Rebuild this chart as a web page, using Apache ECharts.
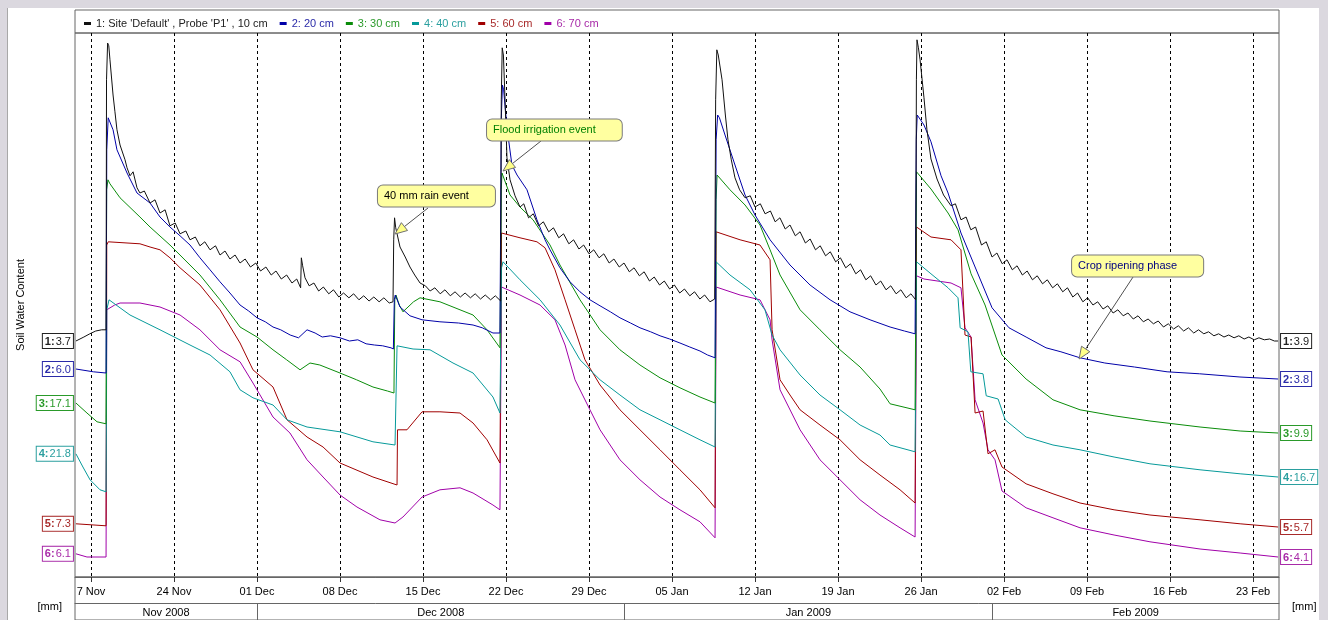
<!DOCTYPE html>
<html><head><meta charset="utf-8">
<script src="https://cdn.jsdelivr.net/npm/echarts@6/dist/echarts.min.js"></script>
<style>
html,body{margin:0;padding:0;width:1328px;height:620px;overflow:hidden;background:#dbd8df;}
#panel{position:absolute;left:7px;top:8px;width:1311px;height:612px;background:#fff;border-left:1px solid #a8a8a8;}
#chart{position:absolute;left:0;top:0;width:1328px;height:620px;}
</style></head><body><div id="panel"></div><div id="chart"></div>
<script>
// x = days since 17 Nov 2008 00:00, y = relative display level (probe lines have no common scale)
const seriesNames = ["1: Site 'Default' , Probe 'P1' , 10 cm", "2: 20 cm", "3: 30 cm", "4: 40 cm", "5: 60 cm", "6: 70 cm"];

const s1 = [[-1.27,59.0],[-0.6,60.0],[-0.1,60.8],[0.4,61.5],[0.9,61.8],[1.27,61.8],[1.31,124.3],[1.40,133.5],[1.50,132.8],[1.60,129.3],[1.86,120.5],[2.02,116.3],[2.19,111.8],[2.45,108.0],[2.87,104.3],[3.04,102.3],[3.29,100.3],[3.55,101.3],[3.88,97.3],[4.13,96.0],[4.5,96.5],[4.98,93.5],[5.4,94.3],[5.82,91.0],[6.25,91.8],[6.66,87.8],[7.1,88.5],[7.51,85.8],[8.0,86.5],[8.35,84.3],[8.8,85.0],[9.19,82.8],[9.6,83.8],[10.04,81.8],[10.5,82.8],[10.88,80.5],[11.3,81.5],[11.72,79.5],[12.15,80.5],[12.57,78.5],[13.0,79.5],[13.45,77.5],[13.9,78.5],[14.3,76.5],[14.75,77.5],[15.2,75.5],[15.6,76.5],[16.05,74.5],[16.5,75.5],[16.95,73.5],[17.35,74.5],[17.68,72.3],[17.74,79.8],[17.85,77.8],[18.05,74.8],[18.4,72.8],[18.8,73.5],[19.2,71.5],[19.6,72.5],[20.05,70.8],[20.45,71.8],[20.9,70.0],[21.3,71.0],[21.75,69.8],[22.15,70.8],[22.6,69.3],[23.0,70.3],[23.45,69.0],[23.85,70.0],[24.3,68.8],[24.7,69.8],[25.15,68.5],[25.47,68.8],[25.53,84.3],[25.6,89.8],[25.7,87.3],[26.06,82.5],[26.5,80.0],[26.9,77.5],[27.3,75.5],[27.75,73.5],[28.2,72.8],[28.6,71.5],[29.0,72.3],[29.45,70.8],[29.85,71.8],[30.3,70.3],[30.7,71.3],[31.15,70.0],[31.55,71.0],[32.0,69.8],[32.4,70.8],[32.85,69.5],[33.25,70.5],[33.7,69.3],[34.1,70.3],[34.55,69.0],[34.60,119.3],[34.68,132.3],[34.78,130.5],[34.92,119.3],[35.08,104.8],[35.34,99.3],[35.76,95.3],[36.18,92.5],[36.5,93.3],[36.9,89.8],[37.3,90.8],[37.75,87.8],[38.15,88.8],[38.6,86.3],[39.0,87.3],[39.45,84.8],[39.85,85.8],[40.3,83.3],[40.7,84.3],[41.15,82.0],[41.55,83.0],[42.0,80.8],[42.4,81.8],[42.85,79.8],[43.25,80.8],[43.7,78.5],[44.1,79.5],[44.55,77.5],[44.95,78.5],[45.4,76.3],[45.8,77.3],[46.25,75.3],[46.65,76.3],[47.1,74.0],[47.5,75.0],[47.95,73.0],[48.35,74.0],[48.8,72.0],[49.2,73.0],[49.65,71.0],[50.05,72.0],[50.5,70.3],[50.9,71.3],[51.35,69.5],[51.75,70.5],[52.2,68.8],[52.6,69.5],[52.68,119.3],[52.78,131.8],[52.9,130.5],[53.22,124.3],[53.5,115.5],[53.72,109.3],[54.0,104.3],[54.31,99.8],[54.7,96.8],[55.16,94.8],[55.6,95.3],[56.0,92.5],[56.45,93.3],[56.85,90.8],[57.3,91.5],[57.7,88.8],[58.1,89.8],[58.55,87.0],[58.95,88.0],[59.4,85.3],[59.8,86.3],[60.25,83.5],[60.65,84.5],[61.1,81.8],[61.5,82.8],[61.95,80.3],[62.35,81.3],[62.8,78.8],[63.2,79.8],[63.65,77.3],[64.05,78.3],[64.5,75.8],[64.9,76.8],[65.35,74.3],[65.75,75.3],[66.2,73.0],[66.6,74.0],[67.05,71.8],[67.45,72.8],[67.9,70.8],[68.3,71.8],[68.75,69.8],[69.15,70.8],[69.55,69.3],[69.61,124.3],[69.66,134.3],[69.78,132.3],[69.92,129.3],[70.25,119.8],[70.5,111.8],[70.84,104.5],[71.35,99.5],[71.9,95.5],[72.53,92.8],[72.9,93.3],[73.37,89.3],[73.8,90.0],[74.2,86.8],[74.6,87.5],[75.1,83.0],[75.5,83.8],[75.99,80.0],[76.4,81.0],[76.85,78.3],[77.25,79.3],[77.7,76.8],[78.1,77.8],[78.55,75.5],[78.95,76.5],[79.4,74.3],[79.8,75.3],[80.25,73.3],[80.65,74.3],[81.1,72.3],[81.5,73.3],[81.95,71.3],[82.35,72.3],[82.8,70.0],[83.2,71.0],[83.65,68.8],[84.05,69.8],[84.5,68.0],[84.9,68.8],[85.35,67.0],[85.75,67.8],[86.2,66.0],[86.6,66.8],[87.05,65.3],[87.45,66.0],[87.9,64.5],[88.3,65.3],[88.75,63.8],[89.15,64.5],[89.6,63.3],[90.0,64.0],[90.45,62.5],[90.85,63.3],[91.3,62.0],[91.7,62.8],[92.15,61.5],[92.55,62.3],[93.0,61.0],[93.4,61.8],[93.85,60.8],[94.25,61.3],[94.7,60.3],[95.1,60.8],[95.55,60.0],[95.95,60.5],[96.4,59.8],[96.8,60.3],[97.25,59.5],[97.65,60.0],[98.1,59.3],[98.5,59.8],[98.95,59.3],[99.4,59.5],[99.8,59.0],[100.11,59.0]];

const s2 = [[-1.27,52.0],[0.2,51.3],[1.27,51.0],[1.33,106.8],[1.45,114.8],[1.55,115.3],[1.86,111.8],[2.19,106.8],[3.04,101.0],[3.88,96.0],[4.98,93.5],[5.82,90.0],[6.66,87.5],[7.51,85.3],[8.35,83.0],[9.19,79.8],[10.04,76.8],[10.88,73.8],[11.72,71.0],[12.57,68.0],[13.3,66.5],[14.0,64.8],[14.7,63.8],[15.35,62.5],[16.0,61.8],[16.8,60.5],[17.5,59.8],[18.22,61.8],[18.9,61.0],[19.5,60.0],[20.2,60.3],[21.0,59.8],[21.8,59.0],[22.5,59.3],[23.2,58.3],[23.9,58.0],[24.6,57.8],[25.3,57.3],[25.5,57.0],[25.58,69.3],[25.66,70.5],[26.06,67.5],[26.9,65.3],[27.92,64.3],[29.43,63.8],[31.0,63.5],[32.22,63.0],[33.0,62.3],[33.9,61.0],[34.49,61.0],[34.60,114.3],[34.70,123.0],[34.80,121.8],[35.08,112.3],[35.5,103.0],[35.93,100.5],[36.77,96.8],[37.61,89.3],[38.29,84.3],[38.71,81.8],[39.55,77.3],[40.4,73.8],[41.24,71.3],[42.08,69.3],[42.93,67.8],[43.8,66.3],[44.61,64.8],[45.5,63.5],[46.3,62.3],[47.2,61.3],[47.99,60.3],[48.8,59.5],[49.67,58.5],[50.5,57.5],[51.36,56.5],[52.0,55.5],[52.63,54.8],[52.72,109.3],[52.85,115.5],[53.0,114.8],[53.47,110.5],[54.31,103.0],[55.16,95.5],[56.0,90.5],[57.27,84.3],[58.95,78.0],[60.64,73.0],[62.33,69.3],[64.01,66.3],[65.70,64.3],[67.39,62.5],[68.6,61.5],[69.5,60.8],[69.6,109.3],[69.68,115.5],[70.25,113.0],[70.84,108.8],[71.69,100.3],[72.28,96.0],[73.37,86.0],[74.56,77.5],[75.99,67.3],[77.42,62.3],[78.86,60.0],[80.54,57.3],[81.8,56.3],[83.41,54.8],[85.5,53.5],[88.0,52.5],[90.75,51.3],[93.5,50.8],[96.9,50.0],[100.11,49.5]];

const s3 = [[-1.27,43.5],[-0.34,41.0],[0.51,38.8],[1.27,38.3],[1.32,96.8],[1.43,99.3],[1.60,98.3],[2.45,94.8],[4.13,90.0],[4.98,87.5],[6.66,83.0],[9.19,75.5],[10.88,69.3],[12.57,62.5],[14.0,60.0],[15.35,56.8],[16.5,54.3],[17.63,51.8],[18.47,53.5],[19.3,53.0],[21.0,51.0],[22.4,49.3],[23.78,47.5],[25.0,46.5],[25.55,46.0],[25.62,69.3],[25.72,70.5],[26.0,68.0],[26.31,66.3],[27.2,68.8],[27.75,69.8],[29.43,68.8],[31.12,66.8],[32.22,65.5],[33.4,61.8],[34.49,57.3],[34.60,96.8],[34.66,101.0],[35.34,95.5],[36.18,92.5],[37.28,89.3],[38.71,83.0],[39.55,78.0],[41.24,69.3],[42.93,61.8],[44.61,56.8],[46.3,53.0],[47.99,49.8],[49.67,47.3],[51.36,45.0],[52.63,43.5],[52.72,94.3],[52.80,100.5],[53.89,96.8],[55.16,93.0],[56.42,88.0],[57.27,81.8],[58.11,75.5],[59.80,66.8],[61.48,61.8],[63.17,56.8],[64.86,52.5],[66.54,47.0],[67.39,43.3],[69.5,41.8],[69.62,101.3],[70.84,97.0],[72.28,91.0],[73.12,86.8],[74.22,75.8],[75.4,68.0],[76.83,55.5],[78.86,49.5],[81.13,44.3],[83.41,41.8],[86.28,40.3],[89.31,39.0],[93.53,37.5],[96.91,36.5],[100.11,36.0]];

const s4 = [[-1.27,30.8],[-0.68,27.5],[-0.08,24.3],[0.76,21.8],[1.27,21.3],[1.33,66.8],[1.52,69.3],[2.45,67.3],[3.29,65.5],[5.82,61.8],[8.35,58.0],[10.04,55.5],[11.72,51.3],[12.57,46.8],[13.66,44.8],[15.35,43.0],[16.53,39.3],[18.22,37.5],[21.0,36.3],[23.78,33.8],[25.64,33.0],[25.81,57.8],[27.16,57.0],[28.59,56.8],[30.53,53.5],[32.22,51.0],[33.90,45.0],[34.49,41.0],[34.62,77.3],[34.75,78.8],[36.18,74.3],[37.87,69.3],[39.55,63.0],[41.24,54.3],[42.93,49.3],[44.61,45.5],[46.3,41.8],[47.99,39.3],[49.67,36.8],[51.36,34.3],[52.63,32.5],[52.72,78.8],[53.89,75.5],[55.58,71.8],[56.84,66.8],[57.44,60.5],[58.11,56.8],[59.80,50.5],[61.48,45.5],[63.17,41.8],[64.86,38.0],[66.54,35.5],[67.39,33.0],[69.5,31.3],[69.62,78.8],[70.84,75.8],[72.28,72.3],[73.12,69.8],[73.3,62.3],[73.96,61.3],[74.2,51.3],[75.23,50.8],[75.5,45.3],[76.5,44.5],[77.1,39.3],[77.42,38.5],[78.86,35.0],[81.13,33.0],[83.41,31.8],[86.28,30.0],[89.31,28.3],[93.53,26.8],[96.91,25.8],[100.11,25.0]];

const s5 = [[-1.27,13.3],[1.27,12.8],[1.33,83.0],[1.45,83.8],[4.13,83.3],[4.98,82.5],[5.82,81.8],[6.66,79.8],[7.51,77.3],[9.19,73.0],[10.88,66.8],[12.57,58.5],[13.66,51.8],[15.35,47.5],[16.53,39.3],[18.22,35.0],[19.57,32.5],[21.0,28.5],[23.78,25.0],[25.81,23.0],[25.85,36.8],[26.65,36.8],[27.92,41.3],[29.43,41.3],[31.12,41.0],[32.22,38.5],[33.40,34.3],[34.49,28.5],[34.62,86.0],[36.18,84.8],[37.61,83.8],[38.29,82.3],[39.13,76.8],[39.98,69.3],[40.82,61.8],[41.66,54.3],[42.93,48.0],[44.61,41.8],[46.3,36.8],[47.99,31.8],[49.67,26.8],[51.36,21.8],[52.63,17.3],[52.72,86.3],[54.74,84.3],[56.42,83.0],[57.27,79.3],[57.44,61.8],[58.11,49.3],[58.95,45.5],[59.80,41.8],[61.48,38.0],[63.17,34.3],[64.86,29.3],[66.54,25.5],[68.23,21.8],[69.5,18.5],[69.62,87.5],[70.84,85.0],[72.53,84.3],[73.37,81.8],[73.71,60.5],[74.22,60.0],[74.56,41.0],[75.23,41.5],[75.65,30.8],[76.24,31.8],[76.83,27.5],[78.86,23.3],[81.13,20.8],[83.41,18.5],[86.28,16.8],[89.31,15.5],[93.53,14.3],[96.91,13.3],[100.11,12.5]];

const s6 = [[-1.27,5.8],[-0.34,5.0],[1.27,5.0],[1.33,66.8],[2.0,68.0],[2.45,68.5],[4.13,68.5],[5.82,67.5],[7.51,65.5],[9.19,61.8],[10.88,56.8],[12.57,53.8],[13.66,48.5],[15.35,40.0],[16.78,36.0],[18.22,29.3],[19.57,25.0],[21.0,20.5],[22.43,17.5],[24.37,14.3],[25.64,13.5],[26.31,15.0],[27.92,20.0],[29.43,21.8],[31.12,22.3],[32.22,21.0],[33.90,18.0],[34.49,16.8],[34.62,72.5],[36.18,70.5],[37.87,68.0],[39.13,64.3],[39.98,58.0],[40.82,49.3],[42.08,41.8],[42.93,36.8],[44.61,29.3],[46.3,24.3],[47.99,20.0],[49.67,16.8],[51.36,13.8],[52.63,9.8],[52.72,72.5],[54.74,70.5],[56.42,69.3],[57.27,64.3],[57.44,59.3],[58.11,46.8],[59.80,36.8],[61.48,29.3],[63.17,24.3],[64.86,19.3],[66.54,15.5],[68.23,12.3],[69.5,10.0],[69.62,75.3],[70.25,74.5],[72.53,73.5],[73.37,72.3],[73.71,62.3],[74.22,60.0],[74.56,44.3],[75.23,38.5],[75.65,31.8],[76.24,29.3],[76.83,21.5],[78.86,17.3],[81.13,14.8],[83.41,12.3],[86.28,10.5],[89.31,8.8],[93.53,7.0],[96.91,6.0],[100.11,5.0]];

const startValues = ['3.7', '6.0', '17.1', '21.8', '7.3', '6.1'];
const endValues = ['3.9', '3.8', '9.9', '16.7', '5.7', '4.1'];

const tickDays = [0, 7, 14, 21, 28, 35, 42, 49, 56, 63, 70, 77, 84, 91, 98];
const tickLabels = ['7 Nov', '24 Nov', '01 Dec', '08 Dec', '15 Dec', '22 Dec', '29 Dec', '05 Jan', '12 Jan', '19 Jan', '26 Jan', '02 Feb', '09 Feb', '16 Feb', '23 Feb'];
const monthBounds = [14, 45, 76];
const monthMids = [6.33, 29.5, 60.5, 88.1];
const monthLabels = ['Nov 2008', 'Dec 2008', 'Jan 2009', 'Feb 2009'];

const annTexts = ['40 mm rain event', 'Flood irrigation event', 'Crop ripening phase'];
const annBox = [[24.2, 95.25], [33.4, 111.75], [82.74, 77.75]];
const annFrom = [[28.42, 92.25], [37.95, 109.0], [87.88, 75.0]];
const annTip = [[25.64, 85.75], [34.75, 101.5], [83.33, 54.5]];

// ---------- styling ----------
const FONT = 'Liberation Sans, Arial, sans-serif';
const lineColors = ['#111111', '#0000a8', '#0a8c0a', '#069a9a', '#a00000', '#a000a8'];
const labelColors = ['#222222', '#2a2aa8', '#2a9a2a', '#2a9f9f', '#a82a2a', '#a82aa8'];
const annColors = ['#000000', '#008000', '#000080'];
const X_MIN = -1.349, X_MAX = 100.19;

function boxLabel(i, val, pos) {
  return {
    show: true, position: pos, distance: 3,
    formatter: '{k|' + (i + 1) + ':}{v|' + val + '}',
    backgroundColor: '#ffffff', borderColor: labelColors[i], borderWidth: 1,
    padding: [2, 2, 1, 2],
    rich: {
      k: {fontWeight: 'bold', color: labelColors[i], fontSize: 11, fontFamily: FONT},
      v: {color: labelColors[i], fontSize: 11, fontFamily: FONT, padding: [0, 0, 0, 1]}
    }
  };
}

const allData = [s1, s2, s3, s4, s5, s6];
const lineSeries = allData.map((d, i) => ({
  name: seriesNames[i], type: 'line', data: d,
  showSymbol: false, symbol: 'none', animation: false, silent: true,
  lineStyle: {width: 1, color: lineColors[i]}, itemStyle: {color: lineColors[i]},
  z: 2 + (6 - i) * 0.01,
  endLabel: boxLabel(i, endValues[i], 'right'),
  markPoint: {
    symbol: 'circle', symbolSize: 0, silent: true, animation: false,
    data: [{coord: d[0], label: boxLabel(i, startValues[i], 'left')}]
  }
}));

const annSeries = {
  type: 'custom', xAxisIndex: 0, yAxisIndex: 0, z: 10, silent: true, clip: false, animation: false,
  data: annBox.map((b, i) => [b[0], b[1], i]),
  encode: {x: 0, y: 1},
  renderItem: function (params, api) {
    const i = api.value(2);
    const b = api.coord(annBox[i]);
    const s = api.coord(annFrom[i]);
    const t = api.coord(annTip[i]);
    const dx = t[0] - s[0], dy = t[1] - s[1];
    const L = Math.sqrt(dx * dx + dy * dy);
    const ux = dx / L, uy = dy / L;
    const len = 12, w = 5;
    const bx = t[0] - ux * len, by = t[1] - uy * len;
    const pts = [[t[0], t[1]], [bx - uy * w, by + ux * w], [bx + uy * w, by - ux * w]];
    return {
      type: 'group', children: [
        {type: 'line', shape: {x1: s[0], y1: s[1], x2: bx, y2: by}, style: {stroke: '#505050', lineWidth: 1}},
        {type: 'polygon', shape: {points: pts}, style: {fill: '#ffff88', stroke: '#707070', lineWidth: 1}},
        {type: 'text', x: b[0], y: b[1], style: {
          text: annTexts[i], fill: annColors[i], fontSize: 11, fontFamily: FONT,
          align: 'left', verticalAlign: 'middle',
          backgroundColor: '#ffffa0', borderColor: '#7a7a7a', borderWidth: 1, borderRadius: 5,
          padding: [5, 26, 5, 6]
        }}
      ]
    };
  }
};

const hiddenNameAxis = (loc) => ({
  type: 'value', gridIndex: 0, min: X_MIN, max: X_MAX, position: 'bottom', offset: 30,
  axisLine: {show: false}, axisTick: {show: false}, axisLabel: {show: false}, splitLine: {show: false},
  name: '[mm]', nameLocation: loc, nameGap: 13,
  nameTextStyle: {fontSize: 11, color: '#000', fontFamily: FONT}
});

const chart = echarts.init(document.getElementById('chart'), null, {renderer: 'canvas'});
chart.setOption({
  animation: false,
  backgroundColor: 'transparent',
  textStyle: {fontFamily: FONT, fontSize: 11, color: '#000'},
  legend: {
    left: 79, top: 13, itemWidth: 7, itemHeight: 3, itemGap: 12, icon: 'rect',
    selectedMode: false,
    data: seriesNames.map((n, i) => ({name: n, textStyle: {color: labelColors[i], fontSize: 11, fontFamily: FONT}}))
  },
  grid: [
    {left: 75, right: 49, top: 33, bottom: 43, show: true, borderColor: '#666', borderWidth: 1, backgroundColor: 'transparent'},
    {left: 75, right: 49, top: 10, height: 23, show: true, borderColor: '#666', borderWidth: 1},
    {left: 75, right: 49, top: 577, height: 60, show: true, borderColor: '#666', borderWidth: 1}
  ],
  xAxis: [
    {
      type: 'value', gridIndex: 0, min: X_MIN, max: X_MAX, position: 'bottom',
      axisLine: {show: true, lineStyle: {color: '#666'}},
      axisTick: {show: true, customValues: tickDays, length: 5, lineStyle: {color: '#333'}},
      axisLabel: {show: true, customValues: tickDays, margin: 9, fontSize: 11, color: '#000', fontFamily: FONT,
        formatter: v => tickLabels[tickDays.indexOf(Math.round(v))] || ''},
      splitLine: {show: true, lineStyle: {type: [3, 3], color: '#000', width: 1}}
    },
    {
      type: 'value', gridIndex: 0, min: X_MIN, max: X_MAX, position: 'bottom', offset: 26,
      axisLine: {show: true, lineStyle: {color: '#666'}},
      axisTick: {show: true, customValues: monthBounds, length: 17, lineStyle: {color: '#666'}},
      axisLabel: {show: true, customValues: monthMids, margin: 4, fontSize: 11, color: '#000', fontFamily: FONT,
        formatter: v => {
          let best = 0;
          monthMids.forEach((m, k) => { if (Math.abs(m - v) < Math.abs(monthMids[best] - v)) best = k; });
          return monthLabels[best];
        }},
      splitLine: {show: false}
    },
    hiddenNameAxis('start'),
    hiddenNameAxis('end'),
    {type: 'value', gridIndex: 1, show: false, min: 0, max: 1},
    {type: 'value', gridIndex: 2, show: false, min: 0, max: 1}
  ],
  yAxis: [
    {
      type: 'value', gridIndex: 0, min: 0, max: 136,
      axisLine: {show: false}, axisTick: {show: false}, axisLabel: {show: false}, splitLine: {show: false},
      name: 'Soil Water Content', nameLocation: 'middle', nameGap: 49,
      nameTextStyle: {fontSize: 11, color: '#000', fontFamily: FONT}
    },
    {type: 'value', gridIndex: 1, show: false, min: 0, max: 1},
    {type: 'value', gridIndex: 2, show: false, min: 0, max: 1}
  ],
  series: lineSeries.concat([annSeries])
});
</script></body></html>
